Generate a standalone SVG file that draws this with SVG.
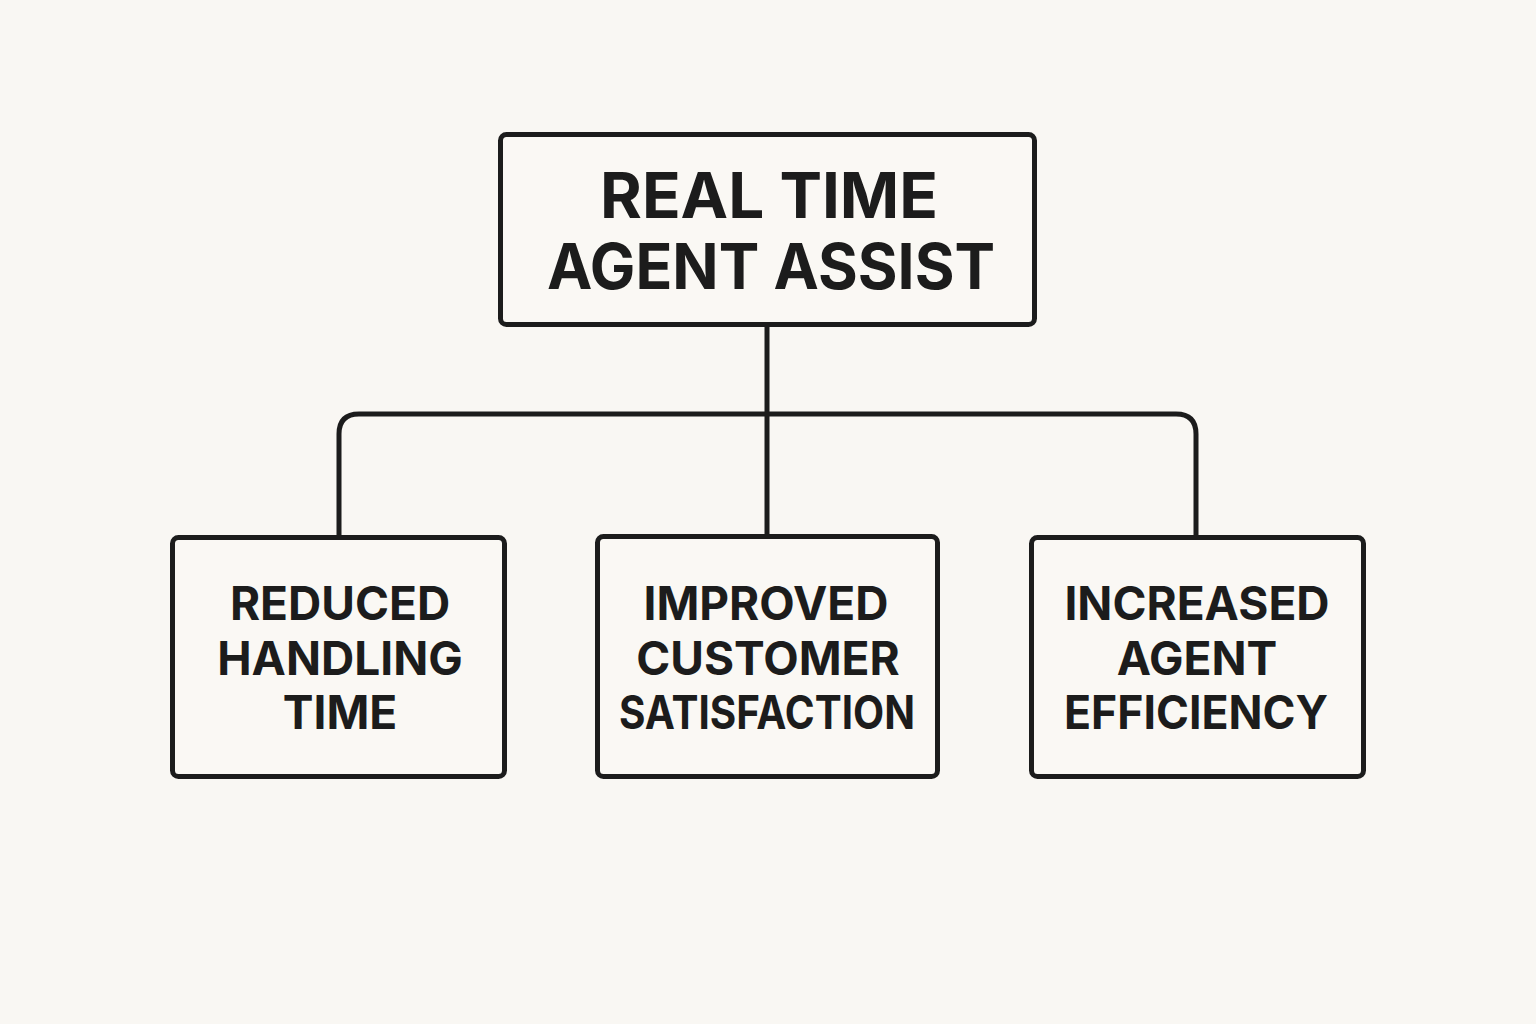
<svg xmlns="http://www.w3.org/2000/svg" width="1536" height="1024" viewBox="0 0 1536 1024">
<style>
.box{fill:#faf8f4;stroke:#1c1c1c;stroke-width:5}
.t1{font-family:Inter,"Liberation Sans",sans-serif;font-weight:700;font-size:63px;fill:#1c1c1c;text-anchor:middle}
.t2{font-family:Inter,"Liberation Sans",sans-serif;font-weight:700;font-size:46px;fill:#1c1c1c;text-anchor:middle}
.con{fill:none;stroke:#1c1c1c;stroke-width:5}
</style>
<rect width="1536" height="1024" fill="#f9f7f3"/>
<g id="connectors">
<path class="con" d="M767 325 V536"/>
<path class="con" d="M339 537 V434 Q339 414 359 414 H1176 Q1196 414 1196 434 V537"/>
</g>
<g id="root">
<rect class="box" x="500.5" y="134.5" width="534" height="190" rx="6"/>
<text class="t1" x="769" y="218" textLength="338" lengthAdjust="spacingAndGlyphs">REAL TIME</text>
<text class="t1" x="771" y="289" textLength="448" lengthAdjust="spacingAndGlyphs">AGENT ASSIST</text>
</g>
<g id="reduced">
<rect class="box" x="172.5" y="537.5" width="332" height="239" rx="6"/>
<text class="t2" x="340" y="620">REDUCED</text>
<text class="t2" x="340" y="675">HANDLING</text>
<text class="t2" x="340" y="729">TIME</text>
</g>
<g id="improved">
<rect class="box" x="597.5" y="536.5" width="340" height="240" rx="6"/>
<text class="t2" x="766" y="620">IMPROVED</text>
<text class="t2" x="768" y="675">CUSTOMER</text>
<text class="t2" x="767" y="729" textLength="296" lengthAdjust="spacingAndGlyphs">SATISFACTION</text>
</g>
<g id="increased">
<rect class="box" x="1031.5" y="537.5" width="332" height="239" rx="6"/>
<text class="t2" x="1197" y="620">INCREASED</text>
<text class="t2" x="1197" y="675">AGENT</text>
<text class="t2" x="1196" y="729" textLength="264" lengthAdjust="spacingAndGlyphs">EFFICIENCY</text>
</g>
</svg>
